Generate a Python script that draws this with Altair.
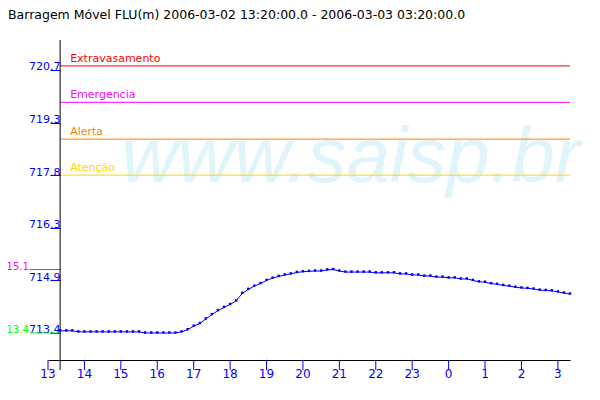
import altair as alt
import pandas as pd

TITLE = "Barragem Móvel FLU(m) 2006-03-02 13:20:00.0 - 2006-03-03 03:20:00.0"
WATERMARK = "www.saisp.br"

# 10-minute readings, 2006-03-02 13:20 .. 2006-03-03 03:20 (m)
levels = [
    713.48, 713.48, 713.48,
    713.45, 713.45, 713.45, 713.45, 713.45, 713.45, 713.45, 713.45, 713.45, 713.45, 713.45,
    713.42, 713.42, 713.42, 713.42, 713.42, 713.42,
    713.45, 713.51, 713.61, 713.68, 713.81, 713.93, 714.04, 714.13, 714.21, 714.31,
    714.52, 714.63, 714.72, 714.79, 714.88, 714.94, 714.99, 715.03, 715.06, 715.10,
    715.12, 715.13, 715.14, 715.14, 715.17, 715.18,
    715.14,
    715.11, 715.11, 715.11, 715.11, 715.11,
    715.09, 715.09, 715.09, 715.09,
    715.06, 715.06, 715.03, 715.03, 715.00, 715.00, 714.97, 714.97, 714.95, 714.95,
    714.92, 714.92,
    714.88, 714.84, 714.83, 714.79, 714.77, 714.74, 714.72, 714.69, 714.67, 714.66,
    714.64, 714.61, 714.60, 714.59, 714.56, 714.53, 714.50,
]
times = pd.date_range("2006-03-02 13:20", periods=len(levels), freq="10min")

T_START = "2006-03-02T13:20:00"
T_END = "2006-03-03T03:20:00"
T_LEFT = "2006-03-02T12:30:00"   # left end of the min/max markers

threshold_names = ["Extravasamento", "Emergencia", "Alerta", "Atenção"]
threshold_values = [720.83, 719.82, 718.80, 717.80]
threshold_colors = ["#ff0000", "#ff00ff", "#ff8000", "#ffd700"]

extreme_labels = ["15.1", "13.4"]
extreme_values = [715.18, 713.42]
extreme_colors = ["#ff00ff", "#00ff00"]

y_ticks = [713.42, 714.88, 716.34, 717.80, 719.26, 720.72]

x_tick_labels = ["13", "14", "15", "16", "17", "18", "19", "20", "21", "22", "23",
                 "0", "1", "2", "3"]
x_tick_times = ["2006-03-02T13:00:00", "2006-03-02T14:00:00", "2006-03-02T15:00:00",
                "2006-03-02T16:00:00", "2006-03-02T17:00:00", "2006-03-02T18:00:00",
                "2006-03-02T19:00:00", "2006-03-02T20:00:00", "2006-03-02T21:00:00",
                "2006-03-02T22:00:00", "2006-03-02T23:00:00", "2006-03-03T00:00:00",
                "2006-03-03T01:00:00", "2006-03-03T02:00:00", "2006-03-03T03:00:00"]

W, H = 522, 320
BLUE = "#0000ff"
FONT = "DejaVu Sans"

series = pd.DataFrame({"t": times.strftime("%Y-%m-%dT%H:%M:%S"), "v": levels})
thr = pd.DataFrame({"name": threshold_names, "v": threshold_values,
                    "t0": T_START, "t1": T_END})
ext = pd.DataFrame({"label": extreme_labels, "v": extreme_values,
                    "col": extreme_colors, "t0": T_START, "tl": T_LEFT})
one = pd.DataFrame({"t0": [T_START]})
xticks = pd.DataFrame({"t": x_tick_times, "label": x_tick_labels})

xscale = alt.Scale(domain=[alt.DateTime(year=2006, month=3, date=2, hours=13),
                           alt.DateTime(year=2006, month=3, date=3, hours=3, minutes=20)])
yscale = alt.Scale(domain=[712.67, 721.55], zero=False, nice=False)

xaxis = alt.Axis(labels=False, ticks=False, title=None, grid=False, domainColor="black")
yaxis = alt.Axis(
    values=y_ticks, format=".1f", title=None, grid=False, domain=False,
    offset=-12, tickSize=10, tickColor=BLUE, labelColor=BLUE,
    labelAlign="right", labelBaseline="alphabetic", labelPadding=-10,
    labelFontSize=11, labelFont=FONT, labelFlush=False, labelOverlap=False,
)

watermark = alt.Chart(one).mark_text(
    text=WATERMARK, font="Liberation Sans", fontStyle="italic", fontSize=78,
    color="#e0f4fc", align="center", baseline="alphabetic",
).encode(x=alt.value(303), y=alt.value(142))

base_line = alt.Chart(series).mark_line(color=BLUE, strokeWidth=1).encode(
    x=alt.X("t:T", scale=xscale, axis=xaxis),
    y=alt.Y("v:Q", scale=yscale, axis=yaxis),
)

yline = alt.Chart(one).mark_rule(color="black", strokeWidth=1).encode(
    x=alt.X("t0:T"), y=alt.value(0), y2=alt.value(H + 10)
)

tick_rules = alt.Chart(xticks).mark_rule(color=BLUE, strokeWidth=1).encode(
    x="t:T", y=alt.value(H), y2=alt.value(H + 10)
)
tick_text = alt.Chart(xticks).mark_text(
    color=BLUE, fontSize=12, font=FONT, align="center", baseline="top"
).encode(x="t:T", y=alt.value(H + 9), text="label:N")

thr_color = alt.Color("name:N", scale=alt.Scale(domain=threshold_names, range=threshold_colors),
                      legend=None)
thr_rules = alt.Chart(thr).mark_rule(strokeWidth=1).encode(
    x="t0:T", x2="t1:T", y="v:Q", color=thr_color
)
thr_text = alt.Chart(thr).mark_text(
    align="left", baseline="alphabetic", dx=10, dy=-4, fontSize=11, font=FONT
).encode(x="t0:T", y="v:Q", text="name:N", color=thr_color)

ext_rules = alt.Chart(ext).mark_rule(strokeWidth=1).encode(
    x="tl:T", x2="t0:T", y="v:Q",
    color=alt.Color("col:N", scale=None),
)
ext_text = alt.Chart(ext).mark_text(
    align="right", baseline="alphabetic", fontSize=10, font=FONT, dx=-1
).encode(x="tl:T", y="v:Q", text="label:N",
         color=alt.Color("col:N", scale=None))

points = alt.Chart(series).mark_square(color=BLUE, size=6, opacity=1, yOffset=-0.5).encode(
    x="t:T", y="v:Q"
)

title = alt.Chart(one).mark_text(
    text=TITLE, align="left", baseline="alphabetic", fontSize=12.5, font=FONT, color="black"
).encode(x=alt.value(-40), y=alt.value(-21))

chart = alt.layer(
    watermark, base_line, thr_rules, thr_text, ext_rules, ext_text, yline,
    tick_rules, tick_text, points, title
).properties(
    width=W, height=H,
    padding={"left": 40, "top": 32, "right": 22, "bottom": 28},
    autosize=alt.AutoSizeParams(type="none"),
    background="white",
).configure_view(stroke=None)

chart.save("out.html", embed_options={"renderer": "svg", "actions": False})
